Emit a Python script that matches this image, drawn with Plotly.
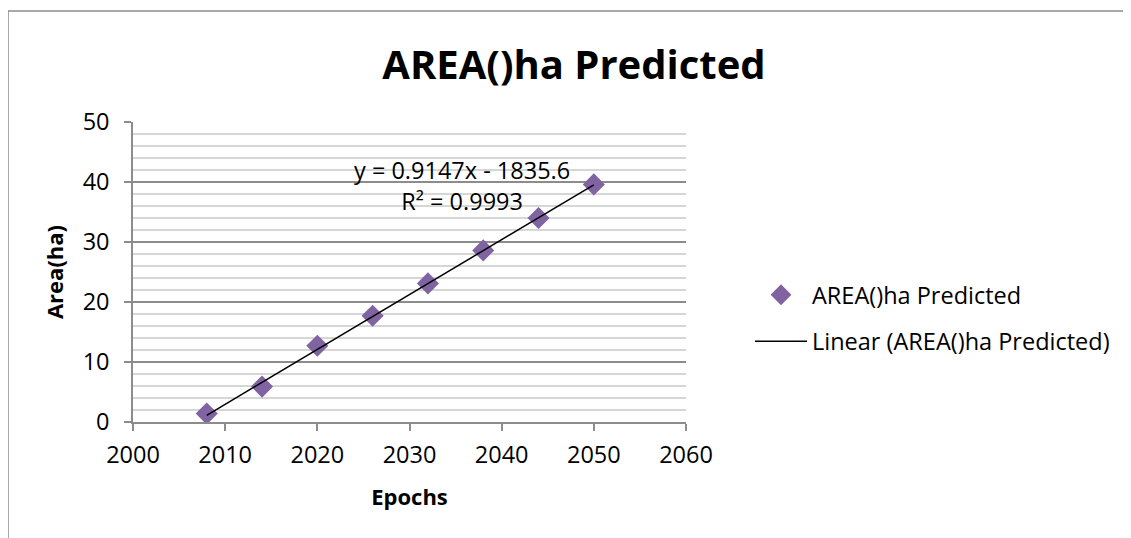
import plotly.graph_objects as go
import numpy as np

years = [2008, 2014, 2020, 2026, 2032, 2038, 2044, 2050]
area = [1.4, 5.9, 12.7, 17.7, 23.1, 28.6, 34.0, 39.6]
slope = 0.9147
intercept = -1835.6
x_ticks = [2000, 2010, 2020, 2030, 2040, 2050, 2060]
y_ticks = [0, 10, 20, 30, 40, 50]

FONT = "Open Sans"
TXT = 23.5
W, H = 1131, 538
# the page body adds an 8px offset; margins compensate
L, T = 125, 114
PW, PH = 553, 300
R = W - L - PW
B = H - T - PH

fig = go.Figure()

# minor gridlines
for v in np.arange(0, 50, 2):
    if v % 10 != 0:
        fig.add_shape(type="line", xref="x", yref="y", x0=2000, x1=2060, y0=v, y1=v,
                      line=dict(color="#c8c8c8", width=1.5), layer="below")

trend_x = [years[0], years[-1]]
trend_y = [slope * x + intercept for x in trend_x]

fig.add_trace(go.Scatter(x=years, y=area, mode="markers", name="AREA()ha Predicted",
                         legendgroup="a",
                         marker=dict(symbol="diamond", size=17, color="#8064A2")))
fig.add_trace(go.Scatter(x=trend_x, y=trend_y, mode="lines", name="Linear (AREA()ha Predicted)",
                         legendgroup="b",
                         line=dict(color="black", width=1.5)))

fig.update_xaxes(range=[2000, 2060], tickvals=x_ticks, showgrid=False, zeroline=False,
                 showline=True, linecolor="#8c8c8c", linewidth=1.5,
                 ticks="outside", ticklen=7, tickcolor="#8c8c8c", tickwidth=1.5,
                 ticklabelstandoff=4,
                 tickfont=dict(family=FONT, size=TXT, color="black"),
                 title=dict(text="<b>Epochs</b>", font=dict(family=FONT, size=22, color="black"), standoff=21))
fig.update_yaxes(range=[0, 50], tickvals=y_ticks, showgrid=True, gridcolor="#8c8c8c", gridwidth=1.5,
                 zeroline=False, showline=True, linecolor="#8c8c8c", linewidth=1.5,
                 ticks="outside", ticklen=7, tickcolor="#8c8c8c", tickwidth=1.5,
                 ticklabelstandoff=10,
                 tickfont=dict(family=FONT, size=TXT, color="black"),
                 title=dict(text="<b>Area(ha)</b>", font=dict(family=FONT, size=22, color="black"), standoff=13))

fig.add_annotation(x=2035.7, y=39.4, xref="x", yref="y",
                   text="y = 0.9147x - 1835.6<br>R² = 0.9993", align="center",
                   showarrow=False, font=dict(family=FONT, size=TXT, color="black"))

# outer chart border
fig.add_shape(type="rect", xref="paper", yref="paper",
              x0=(0 - L) / PW, x1=(W + 40 - L) / PW,
              y0=-(B + 40) / PH, y1=(T + PH - 3) / PH,
              line=dict(color="#8c8c8c", width=1.5))

fig.update_layout(
    width=W, height=H,
    margin=dict(l=L, r=R, t=T, b=B),
    paper_bgcolor="white", plot_bgcolor="white",
    title=dict(text="<b>AREA()ha Predicted</b>", x=566 / W, xanchor="center", y=1 - 57 / H, yanchor="middle",
               font=dict(family=FONT, size=40, color="black")),
    legend=dict(x=(742 - L) / PW, y=(T + PH - 265) / PH, xanchor="left", yanchor="top",
                font=dict(family=FONT, size=TXT, color="black"), tracegroupgap=13,
                itemwidth=52),
    showlegend=True,
)

fig.write_html("out.html")
